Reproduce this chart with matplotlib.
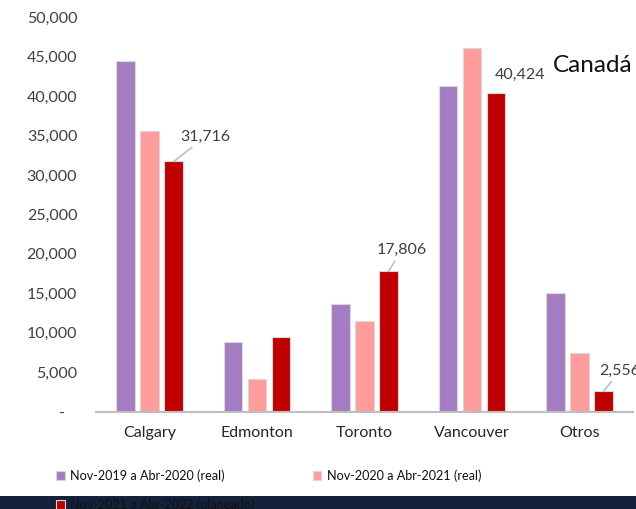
import matplotlib
matplotlib.use("Agg")
import matplotlib.pyplot as plt
import numpy as np
from matplotlib.patches import Rectangle

plt.rcParams['font.family'] = ['Lato', 'DejaVu Sans']

categories = ["Calgary", "Edmonton", "Toronto", "Vancouver", "Otros"]
series_names = ["Nov-2019 a Abr-2020 (real)",
                "Nov-2020 a Abr-2021 (real)",
                "Nov-2021 a Abr-2022 (planeado)"]
s2019 = [44420, 8820, 13600, 41270, 15050]
s2020 = [35640, 4120, 11480, 46160, 7420]
s2021 = [31716, 9500, 17806, 40424, 2556]
labelled = {0: 31716, 2: 17806, 3: 40424, 4: 2556}
yticks = [0, 5000, 10000, 15000, 20000, 25000, 30000, 35000, 40000, 45000, 50000]
title = "Canadá"

colors = ["#A47CC2", "#FF9C9C", "#C00000"]

W, H = 636, 509
fig = plt.figure(figsize=(W / 100, H / 100), dpi=100)
ax = fig.add_axes([96 / W, 1 - 411.6 / H, (633.2 - 96) / W, (411.6 - 17.3) / H])

x = np.arange(len(categories))
bw = 0.172
off = 0.2235
handles = []
for i, (vals, c) in enumerate(zip([s2019, s2020, s2021], colors)):
    b = ax.bar(x + (i - 1) * off, vals, width=bw, color=c, edgecolor="#D9D9D9",
               linewidth=0.8, label=series_names[i], zorder=2)
    handles.append(b)

ax.set_xlim(-0.5, 4.5)
ax.set_ylim(0, 50000)
ax.set_yticks(yticks)
ax.set_yticklabels(["-   " if v == 0 else f"{v:,}" for v in yticks])
ax.set_xticks(x)
ax.set_xticklabels(categories)
ax.tick_params(axis="y", length=0, pad=13.5, labelsize=11.5, labelcolor="#404040")
ax.tick_params(axis="x", length=0, pad=10.5, labelsize=11.5, labelcolor="#262626")
for s in ["top", "right", "left"]:
    ax.spines[s].set_visible(False)
ax.spines["bottom"].set_color("#BFBFBF")
ax.spines["bottom"].set_linewidth(1.5)
ax.spines["bottom"].set_clip_on(False)

offsets = {0: (22.8, 17.8, True), 2: (9.4, 15.1, True),
           3: (17.3, 13.0, False), 4: (11.9, 14.9, True)}
for idx, val in labelled.items():
    dx, dy, arrow = offsets[idx]
    xb = x[idx] + off
    kw = {}
    if arrow:
        kw["arrowprops"] = dict(arrowstyle="-", color="#BFBFBF", lw=1.2,
                                shrinkA=1, shrinkB=0)
    ax.annotate(f"{val:,}", xy=(xb, val), xytext=(dx, dy), textcoords="offset points",
                ha="center", va="center", fontsize=11.5, color="#404040",
                annotation_clip=False, **kw)

fig.text(553 / W, 1 - 66 / H, title, fontsize=17.5, color="#111111",
         ha="left", va="center")

# dark band at bottom
fig.patches.append(Rectangle((0, 0), 1, 13 / H, transform=fig.transFigure,
                             facecolor="#13213B", edgecolor="none", zorder=0))

leg = fig.legend([handles[0], handles[2], handles[1]],
                 [series_names[0], series_names[2], series_names[1]],
                 ncol=2, frameon=False, loc="upper left",
                 bbox_to_anchor=(45 / W, 1 - 458 / H),
                 fontsize=9.1, handlelength=0.65, handleheight=0.65,
                 handletextpad=0.45, columnspacing=4.6, labelspacing=1.3,
                 labelcolor="#111111")
leg.set_zorder(5)

fig.savefig("out.png", dpi=100)
